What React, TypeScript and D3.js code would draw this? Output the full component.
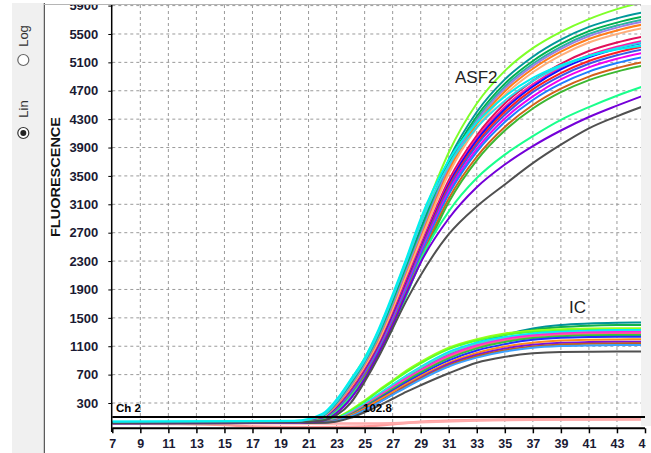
import React, { useRef, useEffect } from "react";
import * as d3 from "d3";

const cycles = [7, 20, 22, 23, 24, 25, 26, 27, 28, 29, 31, 33, 35, 37, 39, 41, 43, 45];

// ASF2 channel curves
const asf2Values = [
  [30, 40, 120, 330, 620, 930, 1320, 1800, 2330, 2850, 3830, 4520, 4980, 5300, 5530, 5710, 5850, 5960],
  [25, 35, 100, 290, 570, 880, 1260, 1730, 2250, 2760, 3730, 4400, 4860, 5180, 5420, 5600, 5720, 5810],
  [25, 35, 95, 280, 550, 860, 1240, 1700, 2210, 2720, 3680, 4340, 4800, 5120, 5360, 5540, 5660, 5750],
  [22, 32, 90, 270, 540, 840, 1220, 1680, 2190, 2690, 3640, 4300, 4760, 5080, 5320, 5500, 5620, 5710],
  [22, 30, 85, 260, 520, 820, 1190, 1650, 2160, 2660, 3610, 4270, 4730, 5050, 5290, 5470, 5590, 5680],
  [20, 30, 80, 250, 500, 800, 1170, 1620, 2120, 2620, 3570, 4230, 4690, 5010, 5250, 5430, 5550, 5640],
  [20, 30, 80, 240, 490, 790, 1150, 1600, 2100, 2590, 3530, 4180, 4640, 4960, 5200, 5380, 5500, 5590],
  [20, 28, 75, 230, 470, 760, 1110, 1550, 2040, 2520, 3440, 4070, 4520, 4840, 5080, 5260, 5380, 5470],
  [20, 28, 72, 225, 460, 750, 1100, 1530, 2020, 2500, 3400, 4030, 4470, 4790, 5030, 5200, 5320, 5410],
  [20, 28, 70, 220, 450, 740, 1090, 1520, 2000, 2480, 3380, 4000, 4440, 4760, 5000, 5170, 5290, 5380],
  [20, 28, 70, 215, 445, 730, 1080, 1500, 1980, 2460, 3350, 3960, 4400, 4720, 4950, 5120, 5240, 5330],
  [20, 28, 70, 210, 440, 720, 1070, 1490, 1960, 2440, 3320, 3930, 4360, 4680, 4910, 5080, 5200, 5290],
  [18, 26, 65, 200, 430, 710, 1050, 1470, 1940, 2410, 3280, 3880, 4310, 4620, 4860, 5030, 5150, 5240],
  [18, 26, 65, 200, 420, 700, 1040, 1450, 1910, 2380, 3240, 3840, 4260, 4570, 4800, 4970, 5090, 5180],
  [18, 26, 60, 190, 400, 680, 1010, 1420, 1870, 2330, 3180, 3770, 4190, 4500, 4730, 4900, 5020, 5110],
  [18, 26, 60, 180, 390, 660, 990, 1390, 1840, 2290, 3130, 3720, 4140, 4450, 4680, 4850, 4970, 5060],
  [18, 25, 60, 180, 390, 650, 970, 1360, 1820, 2320, 3000, 3470, 3800, 4060, 4290, 4470, 4630, 4770],
  [15, 22, 50, 160, 360, 640, 1000, 1400, 1850, 2280, 2900, 3340, 3660, 3920, 4140, 4330, 4490, 4640],
  [20, 28, 55, 130, 300, 600, 950, 1350, 1750, 2100, 2680, 3070, 3380, 3680, 3940, 4170, 4340, 4490],
  [35, 45, 130, 320, 600, 900, 1300, 1790, 2300, 2830, 3650, 4180, 4560, 4840, 5040, 5190, 5300, 5390],
  [40, 50, 150, 350, 630, 930, 1340, 1830, 2350, 2900, 3720, 4250, 4620, 4880, 5060, 5190, 5280, 5340],
];
const asf2Colors = [
  "#7fff2a", "#00999a", "#00b04f", "#2ab5a0", "#9a7ee6", "#ff7d1a", "#ffae7a",
  "#e0105a", "#ff1aa0", "#1010ff", "#ff2020", "#3a5ae6", "#f000f0", "#1e7dff",
  "#d2601a", "#3cb832", "#1aff8c", "#7400d8", "#505050", "#30d8e8", "#00f0f0",
];

// IC channel curves
const icValues = [
  [15, 18, 25, 50, 120, 230, 360, 490, 620, 740, 960, 1130, 1260, 1350, 1400, 1420, 1430, 1435],
  [20, 22, 32, 65, 150, 270, 400, 530, 660, 780, 990, 1150, 1260, 1330, 1370, 1390, 1398, 1400],
  [22, 26, 42, 95, 200, 335, 480, 620, 760, 880, 1080, 1200, 1280, 1320, 1340, 1350, 1352, 1355],
  [22, 26, 40, 90, 190, 320, 465, 605, 740, 860, 1060, 1180, 1260, 1300, 1320, 1328, 1330, 1332],
  [22, 25, 36, 78, 170, 290, 425, 560, 690, 810, 1020, 1150, 1230, 1280, 1305, 1320, 1328, 1330],
  [20, 24, 34, 72, 160, 280, 410, 545, 675, 795, 1000, 1130, 1210, 1260, 1285, 1300, 1305, 1310],
  [20, 23, 32, 68, 150, 265, 395, 525, 650, 765, 970, 1110, 1200, 1250, 1280, 1295, 1300, 1300],
  [20, 23, 30, 64, 145, 255, 380, 505, 630, 745, 950, 1090, 1180, 1235, 1262, 1275, 1280, 1282],
  [20, 23, 30, 62, 140, 250, 370, 495, 615, 730, 930, 1070, 1160, 1215, 1242, 1254, 1258, 1260],
  [18, 22, 28, 58, 130, 235, 355, 475, 595, 705, 900, 1040, 1130, 1190, 1218, 1230, 1234, 1235],
  [18, 22, 28, 55, 125, 225, 340, 455, 570, 680, 870, 1005, 1095, 1150, 1180, 1192, 1196, 1198],
  [16, 20, 25, 46, 105, 195, 305, 425, 545, 655, 850, 980, 1068, 1120, 1148, 1158, 1162, 1164],
  [18, 21, 26, 50, 112, 205, 315, 425, 540, 645, 830, 960, 1045, 1098, 1125, 1136, 1140, 1141],
  [18, 21, 26, 50, 110, 200, 305, 415, 525, 630, 815, 940, 1025, 1078, 1102, 1112, 1116, 1118],
  [15, 18, 22, 40, 90, 170, 260, 360, 460, 550, 719, 868, 950, 1000, 1020, 1023, 1025, 1025],
];
const icColors = [
  "#00939a", "#12b04a", "#9aff1a", "#5aff2a", "#00e8ff", "#40e0d0", "#ff20e0",
  "#ff5a9a", "#34c834", "#2030ff", "#ff8a1a", "#7a10e0", "#c0601a", "#3aa0ff", "#505050",
];

// negative wells (flat baselines)
const baseCycles = [7, 11, 15, 17, 21, 25, 27, 29, 33, 37, 41, 45];
const baseValues = [
  [10, 5, -10, -30, -40, -30, 0, 35, 60, 70, 70, 72],
  [25, 22, 18, 15, 12, 10, 15, 30, 55, 65, 68, 70],
];
const baseColors = ["#ff9a9a", "#ffabab"];

const xTicks = [7, 9, 11, 13, 15, 17, 19, 21, 23, 25, 27, 29, 31, 33, 35, 37, 39, 41, 43, 45];
const yTicks = [300, 700, 1100, 1500, 1900, 2300, 2700, 3100, 3500, 3900, 4300, 4700, 5100, 5500, 5900];
const threshold = 102.8;

const FONT = "'Liberation Sans', Arial, sans-serif";

const AmplificationChart = ({ width, height }) => {
  const svgRef = useRef(null);

  useEffect(() => {
    const svg = d3.select(svgRef.current);
    const left = 112.3;
    const right = 641;
    const top = 5;
    const axisY = 428.3;

    const x = d3.scaleLinear().domain([7, 45]).range([left, 645]);
    const y = d3.scaleLinear().domain([0, 5900]).range([424.3, 5.6]);

    const defs = svg.append("defs");
    defs.append("clipPath").attr("id", "plot-clip")
      .append("rect").attr("x", left).attr("y", top).attr("width", right - left).attr("height", axisY - top);
    defs.append("clipPath").attr("id", "label-clip")
      .append("rect").attr("x", 0).attr("y", top).attr("width", width).attr("height", height);

    svg.append("rect").attr("width", width).attr("height", height).attr("fill", "#fff");

    // left control panel
    svg.append("rect").attr("x", 12).attr("y", 3).attr("width", 32).attr("height", height).attr("fill", "#f0f0f0");
    svg.append("line").attr("x1", 44.3).attr("x2", 44.3).attr("y1", 3).attr("y2", height)
      .attr("stroke", "#333").attr("stroke-width", 1);
    svg.append("rect").attr("x", right).attr("y", top).attr("width", width - right).attr("height", 421)
      .attr("fill", "#f1f1f1");
    svg.append("line").attr("x1", 44).attr("x2", right).attr("y1", 4.5).attr("y2", 4.5)
      .attr("stroke", "#b5b5b5");

    const radios = [
      { label: "Log", ty: 36, cy: 60, on: false },
      { label: "Lin", ty: 109, cy: 133, on: true },
    ];
    radios.forEach((r) => {
      svg.append("text").attr("transform", `translate(23.3, ${r.ty}) rotate(-90)`)
        .attr("text-anchor", "middle").attr("dominant-baseline", "central")
        .style("font-family", FONT).style("font-size", "13px").style("fill", "#333").text(r.label);
      svg.append("circle").attr("cx", 23.3).attr("cy", r.cy).attr("r", 5.5)
        .attr("fill", "#fff").attr("stroke", r.on ? "#333" : "#666").attr("stroke-width", 1.2);
      if (r.on) svg.append("circle").attr("cx", 23.3).attr("cy", r.cy).attr("r", 3).attr("fill", "#222");
    });

    svg.append("text").attr("transform", "translate(55.5, 177) rotate(-90)")
      .attr("text-anchor", "middle").attr("dominant-baseline", "central")
      .attr("textLength", 120).attr("lengthAdjust", "spacingAndGlyphs")
      .style("font-family", FONT).style("font-size", "13px").style("font-weight", "bold")
      .style("fill", "#111").text("FLUORESCENCE");

    // grid
    const grid = svg.append("g").attr("stroke", "#9a9a9a").attr("stroke-width", 1)
      .attr("stroke-dasharray", "3,3");
    xTicks.filter((t) => t > 7 && t < 45).forEach((t) => {
      grid.append("line").attr("x1", x(t)).attr("x2", x(t)).attr("y1", top).attr("y2", axisY);
    });
    yTicks.forEach((t) => {
      grid.append("line").attr("x1", left).attr("x2", right).attr("y1", y(t)).attr("y2", y(t));
    });

    // curves
    const plot = svg.append("g").attr("clip-path", "url(#plot-clip)");
    const line = (cs) => d3.line().x((d, i) => x(cs[i])).y((d) => y(d)).curve(d3.curveMonotoneX);

    baseValues.forEach((vals, i) => {
      plot.append("path").datum(vals).attr("fill", "none").attr("stroke", baseColors[i])
        .attr("stroke-width", 2.5).attr("d", line(baseCycles));
    });
    icValues.forEach((vals, i) => {
      plot.append("path").datum(vals).attr("fill", "none").attr("stroke", icColors[i])
        .attr("stroke-width", 2).attr("d", line(cycles));
    });
    asf2Values.forEach((vals, i) => {
      plot.append("path").datum(vals).attr("fill", "none").attr("stroke", asf2Colors[i])
        .attr("stroke-width", 2).attr("d", line(cycles));
    });

    // threshold
    svg.append("line").attr("x1", left).attr("x2", 645).attr("y1", y(threshold)).attr("y2", y(threshold))
      .attr("stroke", "#000").attr("stroke-width", 2);
    svg.append("text").attr("x", 116).attr("y", 412).style("font-family", FONT)
      .style("font-size", "11.5px").style("font-weight", "bold").style("fill", "#000").text("Ch 2");
    svg.append("text").attr("x", 363).attr("y", 412).style("font-family", FONT)
      .style("font-size", "11.5px").style("font-weight", "bold").style("fill", "#000")
      .text(threshold.toFixed(1));

    // axes
    const yWrap = svg.append("g").attr("clip-path", "url(#label-clip)");
    const yAxis = yWrap.append("g").attr("transform", `translate(${left}, 0)`)
      .call(d3.axisLeft(y).tickValues(yTicks).tickFormat(d3.format("d")).tickSize(4).tickPadding(10));
    yAxis.select(".domain").remove();
    yAxis.selectAll("line").attr("stroke", "#000");
    yAxis.selectAll("text")
      .style("font-family", FONT).style("font-size", "13px").style("font-weight", "bold").style("fill", "#1a1a33");
    svg.append("line").attr("x1", left - 0.6).attr("x2", left - 0.6).attr("y1", top).attr("y2", 432)
      .attr("stroke", "#000").attr("stroke-width", 1.5);

    const xAxis = svg.append("g").attr("transform", `translate(0, ${axisY})`)
      .call(d3.axisBottom(x).tickValues(xTicks).tickSize(5).tickPadding(6));
    xAxis.select(".domain").remove();
    xAxis.selectAll("line").attr("stroke", "#000").attr("stroke-width", 1.5);
    xAxis.selectAll("text").style("font-family", FONT).style("font-size", "12.5px")
      .style("font-weight", "bold").style("fill", "#1a1a33");
    svg.append("line").attr("x1", left).attr("x2", 645).attr("y1", axisY).attr("y2", axisY)
      .attr("stroke", "#000").attr("stroke-width", 2);
    // the screenshot is cut just right of the last tick
    svg.append("rect").attr("x", 646).attr("y", 434).attr("width", 10).attr("height", 20).attr("fill", "#fff");

    // channel labels
    svg.append("text").attr("x", 455).attr("y", 83).style("font-family", FONT)
      .style("font-size", "17px").style("fill", "#222").text("ASF2");
    svg.append("text").attr("x", 569).attr("y", 313).style("font-family", FONT)
      .style("font-size", "17px").style("fill", "#222").text("IC");

    return () => svg.selectAll("*").remove();
  }, [width, height]);

  return <svg ref={svgRef} width={width} height={height} style={{ display: "block" }}></svg>;
};

export default function App() {
  return (
    <div style={{ position: "fixed", left: 0, top: 0 }}>
      <AmplificationChart width={651} height={453} />
    </div>
  );
}
